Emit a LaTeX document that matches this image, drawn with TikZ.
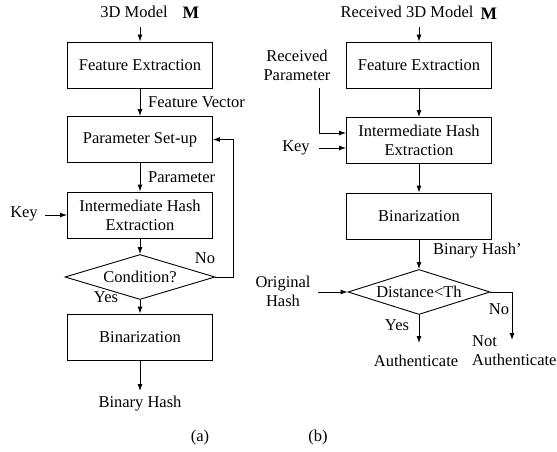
\documentclass[tikz,border=0pt]{standalone}
\usepackage{fontspec}
\setmainfont{Liberation Serif}
\usetikzlibrary{arrows.meta,shapes.geometric}
\begin{document}
\begin{tikzpicture}[x=1pt,y=-1pt,
  every node/.style={font=\fontsize{16.5}{19}\selectfont, inner sep=0pt},
  box/.style={draw, line width=0.9pt, minimum width=145pt, minimum height=46pt, align=center},
  dia/.style={draw, line width=0.9pt, diamond, aspect=3.4, minimum width=#1, minimum height=45pt},
  lbl/.style={align=center},
  arr/.style={line width=0.9pt, -{Latex[length=7pt,width=5pt]}},
  ln/.style={line width=0.9pt}]
\useasboundingbox (0,0) rectangle (557,452);

% ---------- (a) ----------
\node[lbl] (mA) at (134,12) {3D Model};
\node (MA) at (191,13) {\fontsize{17.5}{19}\selectfont\textbf{M}};
\coordinate (inA) at (140,27);
\node[box] (fe1) at (140,65) {Feature Extraction};
\node[box] (ps) at (140,139.5) {Parameter Set-up};
\node[box] (ih1) at (140,215) {Intermediate Hash\\Extraction};
\node[dia=150pt] (cond) at (140,277) {Condition?};
\node[box] (bin1) at (140,337) {Binarization};
\node[lbl] (bh1) at (140,404) {Binary Hash};
\node[lbl] (keyA) at (24,214) {Key};
\node[anchor=west] (fv) at (148,102) {Feature Vector};
\node[anchor=west] (par) at (148,177) {Parameter};
\node (noA) at (205,258) {No};
\node (yesA) at (106,297) {Yes};
\node (capA) at (200,438) {(a)};
\coordinate (fbA) at (233,277);
\coordinate (fbB) at (233,139.5);
\coordinate (keyAe) at (45,215);
\coordinate (bhA) at (140,391);

\draw[arr] (inA) -- (fe1.north);
\draw[arr] (fe1.south) -- (ps.north);
\draw[arr] (ps.south) -- (ih1.north);
\draw[arr] (ih1.south) -- (cond.north);
\draw[arr] (cond.south) -- (bin1.north);
\draw[arr] (bin1.south) -- (bhA);
\draw[arr] (keyAe) -- (ih1.west |- keyAe);
\draw[arr] (cond.east) -- (fbA) -- (fbB) -- (ps.east);

% ---------- (b) ----------
\node[lbl] (mB) at (407,12) {Received 3D Model};
\node (MB) at (489,14) {\fontsize{17.5}{19}\selectfont\textbf{M}};
\coordinate (inB) at (419,27);
\node[box] (fe2) at (419,65) {Feature Extraction};
\node[box] (ih2) at (419,140.5) {Intermediate Hash\\Extraction};
\node[box] (bin2) at (419,216) {Binarization};
\node[dia=142pt] (dist) at (419,292) {Distance<Th};
\node[lbl] (rp) at (297,65) {Received\\Parameter};
\node[lbl] (keyB) at (296,148) {Key};
\node[anchor=west] (bhp) at (433,251) {Binary Hash'};
\node[lbl] (oh) at (283,291) {Original\\Hash};
\node (yesB) at (397,325) {Yes};
\node (noB) at (499,309) {No};
\node[lbl] (auth) at (416,361) {Authenticate};
\node[align=left, anchor=north west] (nauth) at (472,335) {Not\\Authenticate};
\node (capB) at (318,438) {(b)};
\coordinate (rpA) at (319,88);
\coordinate (rpB) at (319,133);
\coordinate (keyBe) at (319,148);
\coordinate (ohE) at (318,292);
\coordinate (noC) at (512,292);
\coordinate (noD) at (512,340);
\coordinate (auA) at (419,343);

\draw[arr] (inB) -- (fe2.north);
\draw[arr] (fe2.south) -- (ih2.north);
\draw[arr] (ih2.south) -- (bin2.north);
\draw[arr] (bin2.south) -- (dist.north);
\draw[arr] (rpA) -- (rpB) -- (ih2.west |- rpB);
\draw[arr] (keyBe) -- (ih2.west |- keyBe);
\draw[arr] (ohE) -- (dist.west);
\draw[arr] (dist.south) -- (auA);
\draw[arr] (dist.east) -- (noC) -- (noD);
\end{tikzpicture}
\end{document}
